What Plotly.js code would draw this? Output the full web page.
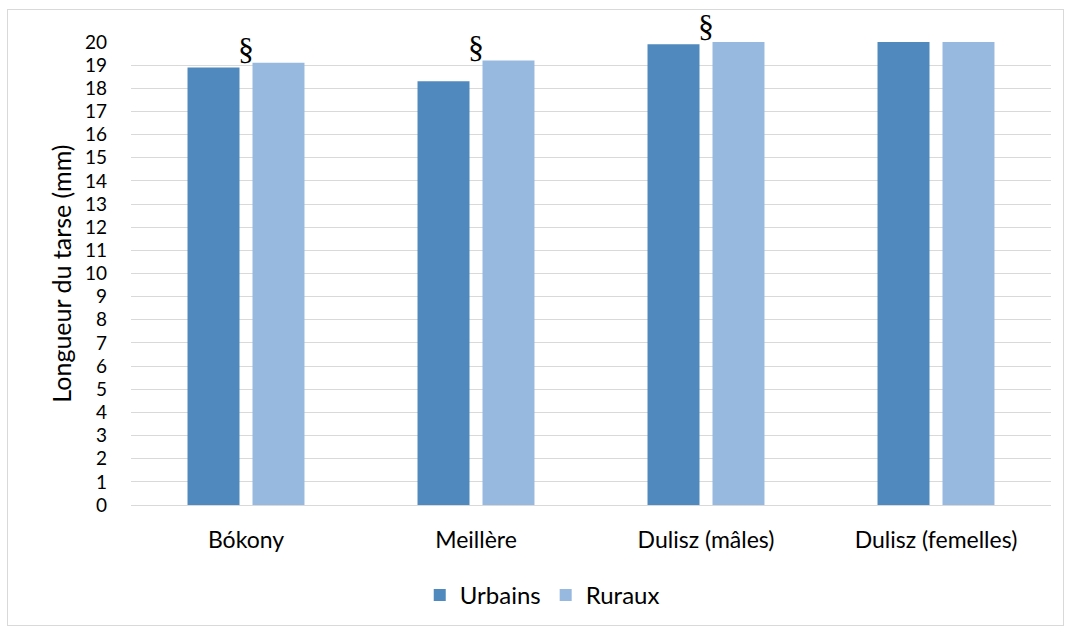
<!DOCTYPE html>
<html><head><meta charset="utf-8">
<script src="https://cdn.plot.ly/plotly-3.0.1.min.js"></script>
<style>
html,body{margin:0;padding:0;background:#fff;}
#wrap{position:relative;width:1070px;height:630px;}
#frame{position:absolute;left:7px;top:9px;width:1055px;height:615px;border:1px solid #d9d9d9;pointer-events:none;}
#chart{position:absolute;left:0;top:0;width:1070px;height:630px;}
</style></head>
<body><div id="wrap"><div id="chart"></div><div id="frame"></div></div>
<script>
const categories = ["Bókony", "Meillère", "Dulisz (mâles)", "Dulisz (femelles)"];
const urbains = [18.9, 18.3, 19.9, 20.0];
const ruraux = [19.1, 19.2, 20.0, 20.0];
const seriesNames = ["Urbains", "Ruraux"];
const marked = ["Bókony", "Meillère", "Dulisz (mâles)"];
const markText = "§";
const yTitle = "Longueur du tarse (mm)";
const yTicks = [0,1,2,3,4,5,6,7,8,9,10,11,12,13,14,15,16,17,18,19,20];

const font = "Lato, 'Open Sans', sans-serif";
const traces = [
  {type:"bar", name:seriesNames[0], x:categories, y:urbains, marker:{color:"#4f89bd"}},
  {type:"bar", name:seriesNames[1], x:categories, y:ruraux, marker:{color:"#98b9df"}}
];
const annotations = marked.map(c => {
  const i = categories.indexOf(c);
  const top = Math.max(urbains[i], ruraux[i]);
  return {x:c, y:top, xref:"x", yref:"y", text:markText, showarrow:false,
    yanchor:"bottom", xshift:0, yshift: (urbains[i] >= 19.5 ? -4 : -6),
    font:{family:"'Liberation Serif', 'DejaVu Serif', serif", size:32, color:"#000"}};
});
annotations.push({text:yTitle, xref:"paper", yref:"paper", x:-0.077, y:0.5,
  xanchor:"center", yanchor:"middle", textangle:-90, showarrow:false,
  font:{size:25, family:font, color:"#000"}});
const layout = {
  width:1070, height:630,
  margin:{l:131, r:19, t:42, b:125},
  paper_bgcolor:"#fff", plot_bgcolor:"#fff",
  barmode:"group", bargap:0.435, bargroupgap:0.2,
  font:{family:font, color:"#000"},
  xaxis:{type:"category", showgrid:false, showline:true, linecolor:"#d9d9d9", linewidth:1,
    ticks:"", tickfont:{size:23, family:font, color:"#000"}, ticklabelstandoff:14},
  yaxis:{range:[0,20], tickvals:yTicks, ticktext:yTicks.map(String), showgrid:true, gridcolor:"#d9d9d9",
    gridwidth:1, zeroline:false, showline:false, ticks:"",
    tickfont:{size:19, family:font, color:"#000"}, ticklabelstandoff:23},
  legend:{orientation:"h", xref:"paper", x:0.447, xanchor:"center", y:-0.195, yanchor:"middle",
    font:{size:24, family:font, color:"#000"}, itemwidth:30, traceorder:"normal"},
  annotations: annotations,
  showlegend:true
};
Plotly.newPlot("chart", traces, layout, {staticPlot:true, displayModeBar:false});
</script></body></html>
